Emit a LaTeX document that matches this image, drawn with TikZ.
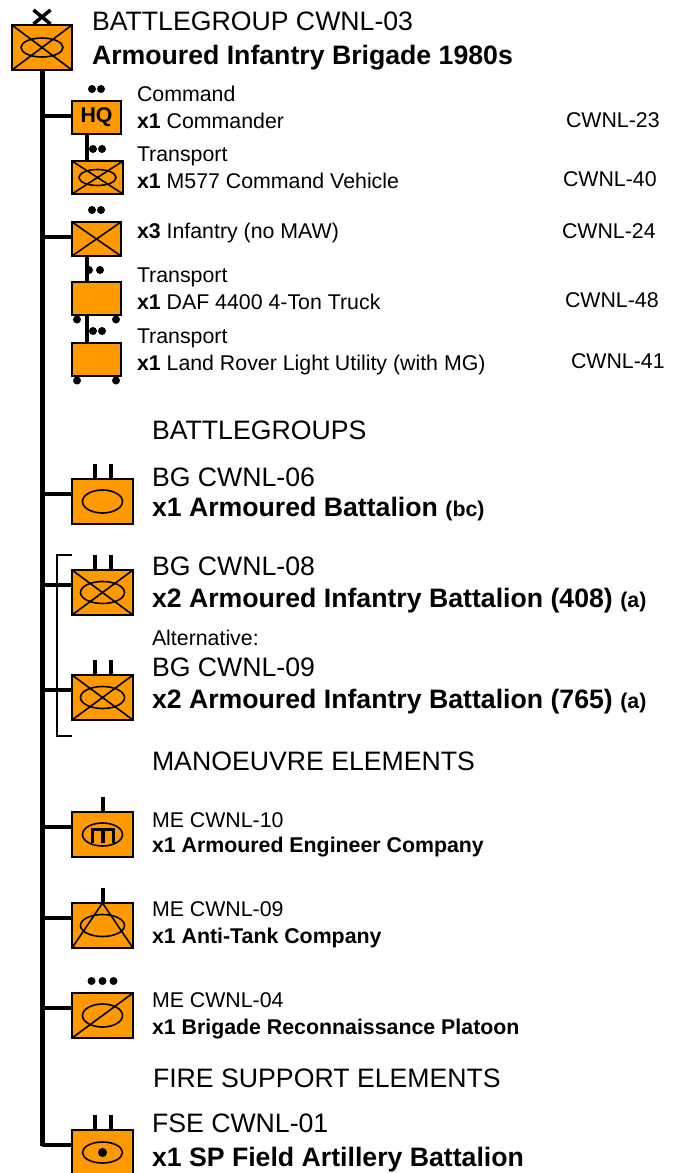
\documentclass[tikz,border=0pt]{standalone}
\usepackage{fontspec}
\setmainfont{Liberation Sans}
\usetikzlibrary{positioning, calc}
\definecolor{unitorange}{HTML}{FF9900}
\newcommand{\bbox}{path picture bounding box}
\newcommand{\smallfont}{\fontsize{21.33}{25}\selectfont}
\newcommand{\largefont}{\fontsize{26.67}{30}\selectfont}
\tikzset{
  unitbox/.style={draw=black, fill=unitorange, line width=1.5pt, inner sep=0pt, outer sep=0pt},
  bigbox/.style={unitbox, minimum width=61pt, minimum height=45pt},
  smallbox/.style={unitbox, minimum width=49pt, minimum height=33pt},
  symline/.style={draw=black, line width=1.6pt},
  crosssym/.style={path picture={
    \draw[symline] (\bbox.north west) -- (\bbox.south east) (\bbox.north east) -- (\bbox.south west);}},
  crossoval/.style n args={2}{path picture={
    \draw[symline] (\bbox.north west) -- (\bbox.south east) (\bbox.north east) -- (\bbox.south west);
    \draw[symline] (\bbox.center) ellipse (#1 and #2);}},
  ovalsym/.style={path picture={\draw[symline] (\bbox.center) ellipse (20pt and 11.5pt);}},
  engsym/.style={path picture={
    \draw[symline] (\bbox.center) ellipse (20pt and 11.5pt);
    \draw[line width=3.5pt] ([shift={(-10pt,-8.5pt)}]\bbox.center) |- ([shift={(11pt,5pt)}]\bbox.center) -- ([shift={(11pt,-8.5pt)}]\bbox.center);
    \draw[line width=3.5pt] ([shift={(0.5pt,-8.5pt)}]\bbox.center) -- ([shift={(0.5pt,5pt)}]\bbox.center);}},
  atsym/.style={path picture={
    \draw[symline] (\bbox.north) -- (\bbox.south west) (\bbox.north) -- (\bbox.south east);
    \draw[symline] (\bbox.center) ellipse (22pt and 11pt);}},
  reconsym/.style={path picture={
    \draw[symline] (\bbox.north east) -- (\bbox.south west);
    \draw[symline] (\bbox.center) ellipse (20pt and 11.5pt);}},
  artysym/.style={path picture={
    \draw[symline] (\bbox.center) ellipse (20pt and 10.5pt);
    \fill[black] (\bbox.center) circle (4.5pt);}},
  spineline/.style={draw=black, line width=5pt},
  branchline/.style={draw=black, line width=4pt},
  linkline/.style={draw=black, line width=4pt},
  tickline/.style={draw=black, line width=4pt},
  bracketline/.style={draw=black, line width=1.2pt},
  smalltext/.style={inner sep=0pt, outer sep=0pt, align=left, text=black, font=\smallfont},
  largetext/.style={inner sep=0pt, outer sep=0pt, align=left, text=black, font=\largefont},
}
\begin{document}
\begin{tikzpicture}
  \useasboundingbox (0,0) rectangle (674pt,-1173pt);
  \node[bigbox, minimum width=60pt, crossoval={21pt}{9.5pt}] (brigade) at (42pt,-47.5pt) {};
  \node[smallbox, font=\smallfont\bfseries, below right=31pt and 0pt of brigade.south east] (hq) {HQ};
  \node[smallbox, minimum width=51pt, crossoval={18.5pt}{8pt}, below right=27pt and 0pt of hq.south west] (command) {};
  \node[smallbox, minimum height=34pt, crosssym, below right=28pt and 0pt of command.south west] (infantry) {};
  \node[smallbox, below right=26pt and 0pt of infantry.south west] (truck) {};
  \node[smallbox, below right=28pt and 0pt of truck.south west] (rover) {};
  \node[bigbox, ovalsym, below right=103pt and 0pt of rover.south west] (armoured) {};
  \node[bigbox, crossoval={22pt}{11pt}, below right=46pt and 0pt of armoured.south west] (aifa) {};
  \node[bigbox, crossoval={22pt}{11pt}, below right=60pt and 0pt of aifa.south west] (aifb) {};
  \node[bigbox, engsym, below right=92pt and 0pt of aifb.south west] (engineer) {};
  \node[bigbox, atsym, below right=46pt and 0pt of engineer.south west] (antitank) {};
  \node[bigbox, reconsym, below right=45pt and 0pt of antitank.south west] (recon) {};
  \node[bigbox, artysym, below right=92pt and 0pt of recon.south west] (artillery) {};

  \node[largetext, right=20pt of brigade, yshift=6pt] (brigadetext) {BATTLEGROUP CWNL-03\\[4pt]\textbf{Armoured Infantry Brigade 1980s}};
  \node[smalltext, right=16pt of hq, yshift=10.5pt] (hqtext) {Command\\[2pt]\textbf{x1} Commander};
  \node[smalltext, right=14pt of command, yshift=9.5pt] (commandtext) {Transport\\[2pt]\textbf{x1} M577 Command Vehicle};
  \node[smalltext, right=16pt of infantry, yshift=6pt] (infantrytext) {\textbf{x3} Infantry (no MAW)};
  \node[smalltext, right=16pt of truck, yshift=10pt] (trucktext) {Transport\\[2pt]\textbf{x1} DAF 4400 4-Ton Truck};
  \node[smalltext, right=16pt of rover, yshift=8pt] (rovertext) {Transport\\[2pt]\textbf{x1} Land Rover Light Utility (with MG)};
  \node[smalltext, right=445pt of hq, yshift=-2.5pt] (hqcode) {CWNL-23};
  \node[smalltext, right=440pt of command, yshift=-2pt] (commandcode) {CWNL-40};
  \node[smalltext, right=441pt of infantry, yshift=8pt] (infantrycode) {CWNL-24};
  \node[smalltext, right=444pt of truck, yshift=-2pt] (truckcode) {CWNL-48};
  \node[smalltext, right=450pt of rover, yshift=-2pt] (rovercode) {CWNL-41};

  \node[largetext, above right=39pt and 19pt of armoured.north east] (bgheader) {BATTLEGROUPS};
  \node[largetext, right=19pt of armoured, yshift=7.5pt] (armouredtext) {BG CWNL-06\\[0pt]\textbf{x1 Armoured Battalion {\smallfont (bc)}}};
  \node[largetext, right=19pt of aifa, yshift=8pt] (aifatext) {BG CWNL-08\\[2pt]\textbf{x2 Armoured Infantry Battalion (408) {\smallfont (a)}}};
  \node[smalltext, above right=29pt and 19pt of aifb.north east] (alttext) {Alternative:};
  \node[largetext, right=19pt of aifb, yshift=12pt] (aifbtext) {BG CWNL-09\\[2pt]\textbf{x2 Armoured Infantry Battalion (765) {\smallfont (a)}}};
  \node[largetext, above right=41pt and 19pt of engineer.north east] (meheader) {MANOEUVRE ELEMENTS};
  \node[smalltext, right=19pt of engineer, yshift=-0.5pt] (engineertext) {ME CWNL-10\\[0pt]\textbf{x1 Armoured Engineer Company}};
  \node[smalltext, right=19pt of antitank, yshift=0.5pt] (antitanktext) {ME CWNL-09\\[2pt]\textbf{x1 Anti-Tank Company}};
  \node[smalltext, right=19pt of recon] (recontext) {ME CWNL-04\\[2pt]\textbf{x1 Brigade Reconnaissance Platoon}};
  \node[largetext, above right=42pt and 20pt of artillery.north east] (fseheader) {FIRE SUPPORT ELEMENTS};
  \node[largetext, right=19pt of artillery, yshift=9.5pt] (artillerytext) {FSE CWNL-01\\[4pt]\textbf{x1 SP Field Artillery Battalion}};

  \coordinate[below=1076pt of brigade.south] (spineend);
  \draw[spineline] (brigade.south) -- (spineend);
  \draw[branchline] ([yshift=1.5pt]hq.west) -- ([yshift=1.5pt]hq.west -| brigade.south);
  \draw[branchline] ([yshift=2pt]infantry.west) -- ([yshift=2pt]infantry.west -| brigade.south);
  \foreach \unit in {armoured, aifa, aifb, engineer, antitank, recon}
    \draw[branchline] ([yshift=7.5pt]\unit.west) -- ([yshift=7.5pt]\unit.west -| brigade.south);
  \draw[branchline] ([yshift=7.5pt]artillery.west) -- ([yshift=7.5pt]artillery.west -| spineend);

  \draw[linkline] ([xshift=-9.5pt]hq.south) -- ([xshift=-9.5pt]hq.south |- command.north);
  \draw[linkline] ([xshift=-9.5pt]infantry.south) -- ([xshift=-9.5pt]infantry.south |- truck.north);
  \draw[linkline] ([xshift=-9.5pt]truck.south) -- ([xshift=-9.5pt]truck.south |- rover.north);

  \draw[tickline, line width=3.5pt] ([shift={(-8.5pt,15pt)}]brigade.north) -- ([shift={(8.5pt,1pt)}]brigade.north);
  \draw[tickline, line width=3.5pt] ([shift={(8.5pt,15pt)}]brigade.north) -- ([shift={(-8.5pt,1pt)}]brigade.north);
  \foreach \dx in {-4.5,4.5} \fill[black] ([shift={(\dx pt,12pt)}]hq.north) circle (4pt);
  \foreach \dx in {-4.5,4.5} \fill[black] ([shift={(\dx pt,12pt)}]command.north) circle (4pt);
  \foreach \dx in {-4.5,4.5} \fill[black] ([shift={(\dx pt,12pt)}]infantry.north) circle (4pt);
  \foreach \dx in {-7.5,3.5} \fill[black] ([shift={(\dx pt,12pt)}]truck.north) circle (4pt);
  \foreach \dx in {-3.5,5.5} \fill[black] ([shift={(\dx pt,12pt)}]rover.north) circle (4pt);
  \foreach \unit in {truck, rover} {
    \fill[black] ([shift={(5pt,-4.5pt)}]\unit.south west) circle (4pt);
    \fill[black] ([shift={(-5pt,-4.5pt)}]\unit.south east) circle (4pt);
  }
  \foreach \unit in {armoured, aifa, aifb, artillery} {
    \draw[tickline] ([xshift=-8pt]\unit.north) -- ++(0,15pt);
    \draw[tickline] ([xshift=8pt]\unit.north) -- ++(0,15pt);
  }
  \draw[tickline] (engineer.north) -- ++(0,15pt);
  \draw[tickline] (antitank.north) -- ++(0,15pt);
  \foreach \dx in {-11,0,11} \fill[black] ([shift={(\dx pt,12pt)}]recon.north) circle (4pt);
  \draw[bracketline] ([yshift=15pt]aifa.north west) -- ++(-15pt,0) |- ([yshift=-16pt]aifb.south west);
\end{tikzpicture}
\end{document}
